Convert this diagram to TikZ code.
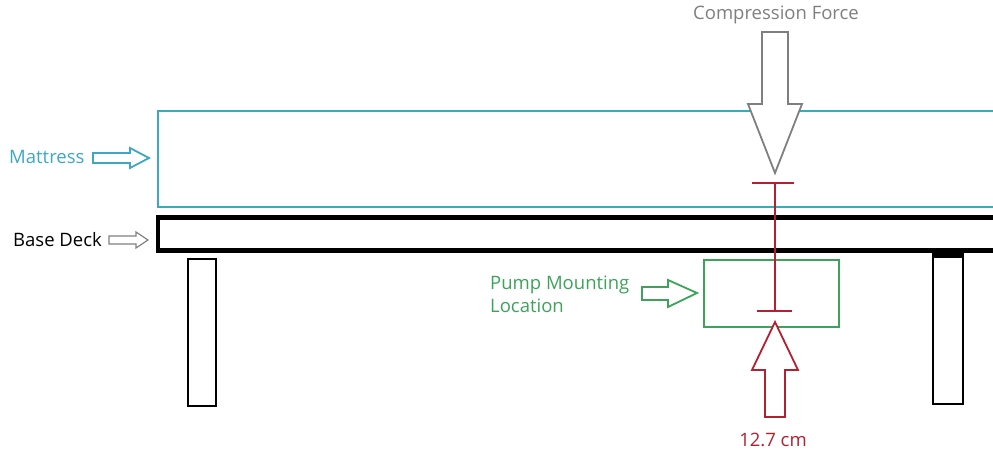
\documentclass[tikz,border=0pt]{standalone}
\usepackage{fontspec}
\setmainfont{Open Sans}
\definecolor{matc}{HTML}{3CA8C2}
\definecolor{grayc}{HTML}{7F7F7F}
\definecolor{greenc}{HTML}{3DA35A}
\definecolor{redc}{HTML}{B52030}
\begin{document}
\begin{tikzpicture}[x=1pt,y=-1pt,
  lbl/.style={inner sep=0pt,font=\fontsize{18.5}{22}\selectfont},
  pumplbl/.style={inner sep=0pt,font=\fontsize{18.5}{23}\selectfont},
  blk/.style={line width=1.8pt,line join=miter,fill=white}]
\useasboundingbox (0,0) rectangle (993,450);
\clip (0,0) rectangle (993,450);
% mattress
\draw[matc,line width=2pt] (158,111) rectangle (1010,207);
% base deck
\draw[black,line width=4.5pt] (158,217.5) rectangle (1010,250.5);
% legs
\draw[black,line width=2.5pt] (188,259) rectangle (216,406);
\draw[black,line width=2.5pt] (933,254) rectangle (963,404);
\fill[black] (933,252) rectangle (963,258);
% pump box
\draw[greenc,line width=2pt] (704,260) rectangle (839,327);
% red measurement
\draw[redc,line width=2pt] (775,183) -- (775,311);
\draw[redc,line width=2pt] (752,183) -- (794,183);
\draw[redc,line width=2pt] (757,311) -- (792,311);
% compression force arrow
\draw[grayc,blk] (762,32) -- (788,32) -- (788,104) -- (802,104) -- (775,173) -- (748,104) -- (762,104) -- cycle;
\node[lbl,text=grayc] (cf) at (776,15) {Compression Force};
% red up arrow
\draw[redc,blk] (765,417) -- (785,417) -- (785,370) -- (798,370) -- (775,322) -- (752,370) -- (765,370) -- cycle;
\node[lbl,text=redc] (dim) at (773,440) {12.7 cm};
% mattress label + arrow
\node[lbl,text=matc,anchor=west] (mat) at (9,157) {Mattress};
\draw[matc,blk] (93,153) -- (130,153) -- (130,148) -- (149,158) -- (130,168) -- (130,163) -- (93,163) -- cycle;
% base deck label + arrow
\node[lbl,text=black,anchor=west] (bd) at (13,240) {Base Deck};
\draw[grayc,line width=1.2pt,line join=miter] (109,236) -- (136,236) -- (136,232) -- (148,240) -- (136,248) -- (136,244) -- (109,244) -- cycle;
% pump label + arrow
\node[pumplbl,text=greenc,align=left,anchor=west] (pump) at (490,294) {Pump Mounting\\Location};
\draw[greenc,blk] (642,287) -- (668,287) -- (668,280) -- (697,293) -- (668,307) -- (668,300) -- (642,300) -- cycle;
\end{tikzpicture}
\end{document}
